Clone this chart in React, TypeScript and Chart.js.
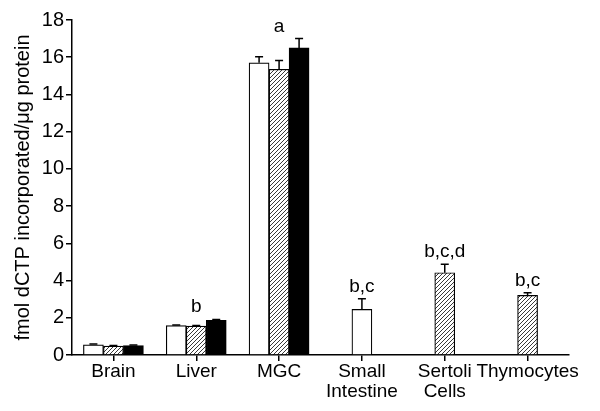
import React, { useEffect, useRef } from "react";
import { Chart, registerables } from "chart.js";

Chart.register(...registerables);

const categories: (string | string[])[] = ["Brain", "Liver", "MGC", ["Small", "Intestine"], ["Sertoli", "Cells"], "Thymocytes"];
const openValues: (number | null)[] = [0.55, 1.58, 15.7, 2.45, null, null];
const openErrors: (number | null)[] = [0.04, 0.03, 0.32, 0.57, null, null];
const hatchedValues: (number | null)[] = [0.48, 1.55, 15.35, null, 4.42, 3.2];
const hatchedErrors: (number | null)[] = [0.03, 0.03, 0.48, null, 0.45, 0.14];
const solidValues: (number | null)[] = [0.5, 1.86, 16.5, null, null, null];
const solidErrors: (number | null)[] = [0.04, 0.05, 0.5, null, null, null];
const letters: string[] = ["", "b", "a", "b,c", "b,c,d", "b,c"];
const yTicks: number[] = [0, 2, 4, 6, 8, 10, 12, 14, 16, 18];

const errorSets = [openErrors, hatchedErrors, solidErrors];
const FONT = "'Liberation Sans', Arial, Helvetica, sans-serif";

function makeHatch(): CanvasPattern | string {
  const c = document.createElement("canvas");
  const s = 4;
  c.width = s;
  c.height = s;
  const ctx = c.getContext("2d");
  if (!ctx) return "#888";
  ctx.fillStyle = "#fff";
  ctx.fillRect(0, 0, s, s);
  ctx.strokeStyle = "#222";
  ctx.lineWidth = 0.9;
  ctx.beginPath();
  ctx.moveTo(0, s);
  ctx.lineTo(s, 0);
  ctx.moveTo(-1, 1);
  ctx.lineTo(1, -1);
  ctx.moveTo(s - 1, s + 1);
  ctx.lineTo(s + 1, s - 1);
  ctx.stroke();
  return ctx.createPattern(c, "repeat") || "#888";
}

const errorBarPlugin = {
  id: "errorBars",
  afterDatasetsDraw(chart: any) {
    const ctx = chart.ctx;
    const yScale = chart.scales.y;
    ctx.save();
    ctx.strokeStyle = "#000";
    ctx.lineWidth = 1.5;
    chart.data.datasets.forEach((ds: any, i: number) => {
      const meta = chart.getDatasetMeta(i);
      const errs = errorSets[i];
      ds.data.forEach((v: number | null, j: number) => {
        const e = errs[j];
        if (v == null || e == null) return;
        const bar = meta.data[j];
        if (!bar) return;
        const x = bar.x;
        const yTop = yScale.getPixelForValue(v);
        const yCap = yScale.getPixelForValue(v + e);
        ctx.beginPath();
        ctx.moveTo(x, yTop);
        ctx.lineTo(x, yCap);
        ctx.moveTo(x - 4, yCap);
        ctx.lineTo(x + 4, yCap);
        ctx.stroke();
      });
    });
    ctx.restore();
  },
};

const letterPlugin = {
  id: "letters",
  afterDatasetsDraw(chart: any) {
    const ctx = chart.ctx;
    const xScale = chart.scales.x;
    const yScale = chart.scales.y;
    ctx.save();
    ctx.fillStyle = "#000";
    ctx.font = `19px ${FONT}`;
    ctx.textAlign = "center";
    ctx.textBaseline = "alphabetic";
    letters.forEach((t, j) => {
      if (!t) return;
      let top = 0;
      chart.data.datasets.forEach((ds: any, i: number) => {
        const v = ds.data[j];
        if (v == null) return;
        const e = errorSets[i][j] || 0;
        top = Math.max(top, v + e);
      });
      const x = xScale.getPixelForValue(j);
      const y = yScale.getPixelForValue(top) - 7;
      ctx.fillText(t, x, y);
    });
    ctx.restore();
  },
};

export default function App() {
  const ref = useRef<HTMLCanvasElement | null>(null);
  useEffect(() => {
    document.body.style.margin = "0";
    const canvas = ref.current;
    if (!canvas) return;
    const hatch = makeHatch();
    const chart = new Chart(canvas, {
      type: "bar",
      data: {
        labels: categories as any,
        datasets: [
          { label: "open", data: openValues, backgroundColor: "#fff", borderColor: "#000", borderWidth: 1.2 },
          { label: "hatched", data: hatchedValues, backgroundColor: hatch as any, borderColor: "#000", borderWidth: 1.2 },
          { label: "solid", data: solidValues, backgroundColor: "#000", borderColor: "#000", borderWidth: 1.2 },
        ] as any,
      },
      options: {
        responsive: false,
        animation: false,
        skipNull: true,
        barThickness: 20,
        layout: { padding: { top: 20, right: 31, left: 9, bottom: 0 } },
        plugins: { legend: { display: false }, tooltip: { enabled: false }, title: { display: false } },
        scales: {
          x: {
            grid: { display: true, drawOnChartArea: false, drawTicks: true, tickLength: 6, offset: false, color: "#000", lineWidth: 1.5 },
            border: { display: true, color: "#000", width: 1.5 },
            ticks: { color: "#000", font: { family: FONT, size: 19, lineHeight: 1.05 }, padding: 1, maxRotation: 0, autoSkip: false },
            afterFit: (s: any) => { s.height = 56; },
          },
          y: {
            min: 0,
            max: 18,
            afterBuildTicks: (s: any) => { s.ticks = yTicks.map((v) => ({ value: v })); },
            grid: { display: true, drawOnChartArea: false, drawTicks: true, tickLength: 6, color: "#000", lineWidth: 1.5 },
            border: { display: true, color: "#000", width: 1.5 },
            ticks: { color: "#000", font: { family: FONT, size: 20 }, padding: 2 },
            title: { display: true, text: "fmol dCTP incorporated/\u03bcg protein", color: "#000", font: { family: FONT, size: 20 }, padding: { top: 2, bottom: 2 } },
            afterFit: (s: any) => { s.width = 63; },
          },
        },
      } as any,
      plugins: [errorBarPlugin, letterPlugin],
    });
    return () => chart.destroy();
  }, []);
  return (
    <div style={{ width: 600, height: 411 }}>
      <canvas ref={ref} width={600} height={411} style={{ display: "block" }} />
    </div>
  );
}
